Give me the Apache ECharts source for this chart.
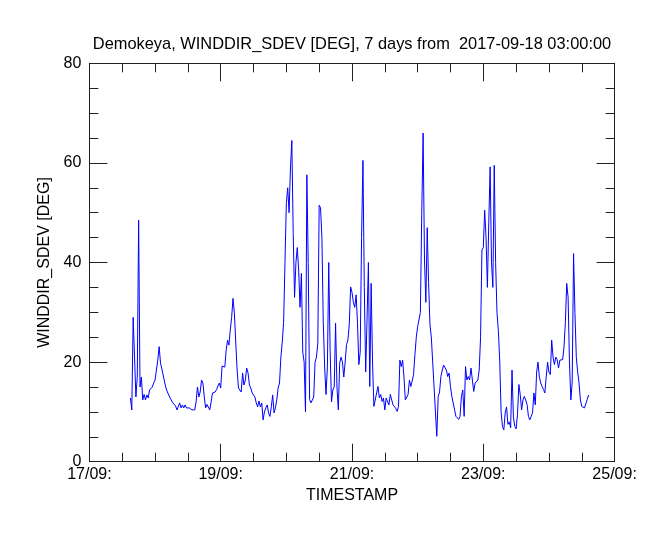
<!DOCTYPE html>
<html>
<head>
<meta charset="utf-8">
<script src="https://cdn.jsdelivr.net/npm/echarts@6/dist/echarts.min.js"></script>
<style>
html,body{margin:0;padding:0;background:#fff;}
#chart{width:666px;height:533px;}
</style>
</head>
<body>
<div id="chart"></div>
<script>
// ---- data ----
var titleText = 'Demokeya, WINDDIR_SDEV [DEG], 7 days from  2017-09-18 03:00:00';
var xAxisName = 'TIMESTAMP';
var yAxisName = 'WINDDIR_SDEV [DEG]';
var axisStart = Date.UTC(2017, 8, 17, 0, 0);   // 17/09
var axisEnd = Date.UTC(2017, 8, 25, 0, 0);     // 25/09
var seriesStart = Date.UTC(2017, 8, 17, 15, 0);
var stepMs = 30 * 60 * 1000;                   // 30-minute samples
var yTicks = [0, 20, 40, 60, 80];
var values = [
  12.8, 10.4, 29, 21, 13, 17, 48.5, 15, 17, 12.4,
  13.5, 12.4, 13.4, 12.8, 14.4, 14, 15, 15.8, 16.4, 18.4,
  20.4, 23.1, 19.8, 18.6, 18.6, 16, 14.8, 14, 14.4, 12.8,
  12.4, 11.8, 11.4, 11.2, 10.4, 10.8, 11.8, 10.8, 11.4, 10.8,
  11.4, 10.8, 11.2, 10.8, 11, 10.4, 10.8, 10.4, 12, 15,
  13, 14, 16.4, 15.8, 13, 10.8, 11.5, 11.8, 10.4, 12,
  13.8, 14, 14, 14.5, 15.2, 15.8, 14.8, 19.2, 19.2, 19,
  22.4, 24.4, 23.4, 26.4, 29, 32.8, 29.8, 24, 18.4, 14.8,
  14.4, 14, 17.8, 15.4, 16.4, 18.8, 17.8, 15.4, 14.8, 13.8,
  14, 13, 11.8, 11, 12.2, 11, 11.8, 8.4, 10, 10.8,
  11.4, 9.8, 9.1, 11, 13.4, 9.8, 10.8, 12.4, 14.8, 15.8,
  21, 24, 28, 40, 52, 55, 50, 59, 64.5, 46,
  33, 40, 43, 38.5, 31, 37.8, 22, 20, 10, 57.6,
  39.8, 12.5, 11.8, 11.5, 13, 20, 21, 23.8, 51.5, 51,
  45, 28, 19, 13.5, 19, 40, 22.4, 12, 14.4, 15,
  27.8, 15, 10.4, 19.8, 21, 20, 17, 20, 23.5, 24.4,
  27.5, 35.1, 34, 32, 31, 33.5, 28, 19.5, 22, 45,
  60.5, 35, 18, 28.5, 40, 15.1, 35.8, 20, 11.1, 11.1,
  13.8, 15.1, 12.8, 13.5, 12.1, 12.8, 10.4, 12.8, 12.5, 11.4,
  13.5, 13.1, 11.4, 11.1, 10.7, 10.1, 11.1, 20.4, 19.1, 20.4,
  17, 12.4, 12.4, 13.5, 16.4, 15.1, 16.2, 17.5, 21.5, 25,
  27.1, 27, 30, 50, 66, 40.5, 32, 47, 36, 27.5,
  25, 20, 15, 10, 5.1, 13, 14, 17.1, 18.4, 19.4,
  19.1, 18.4, 17.1, 17.8, 15.1, 13.1, 13.4, 10.4, 9.1, 9.1,
  8.5, 9.1, 13.1, 14.4, 9.1, 19.1, 16.4, 17.1, 16.4, 18.8,
  19.1, 14.1, 15.8, 16.1, 16.4, 18.4, 25, 42.5, 43, 50.5,
  45, 35, 48, 59.2, 40, 35, 59.5, 40, 30, 26.3,
  20.4, 10, 7.1, 6.4, 9.8, 11, 7.5, 8, 6.8, 18.4,
  9, 7.1, 6.6, 9.5, 15.5, 13.5, 10.4, 12.4, 13.1, 12.4,
  11.5, 9.1, 8.4, 8.8, 9.8, 13.8, 11.4, 18, 20, 17,
  15.8, 15.1, 14.5, 13.8, 17, 20, 18, 17.5, 24.4, 21,
  19.5, 21, 20.5, 18.8, 20.4, 20.8, 20.5, 23, 28, 35.8,
  33, 20, 12.4, 16, 41.8, 30, 21, 18, 15.8, 12.4,
  11.1, 10.8, 10.8, 10.8, 12.5, 13.4
];

var points = values.map(function (v, i) { return [seriesStart + i * stepMs, v]; });

function pad2(n) { return (n < 10 ? '0' : '') + n; }
function dayLabel(ms) {
  var d = new Date(ms);
  return pad2(d.getUTCDate()) + '/' + pad2(d.getUTCMonth() + 1) + ':';
}

var FONT = 'Liberation Sans';
var AX = '#222';
var dayMs = 86400000;

var chart = echarts.init(document.getElementById('chart'), null, { renderer: 'canvas' });

var commonX = {
  type: 'value',
  min: axisStart,
  max: axisEnd,
  interval: 2 * dayMs,
  splitLine: { show: false },
  axisLine: { show: true, onZero: false, lineStyle: { color: AX, width: 1 } },
  axisTick: { show: true, inside: true, length: 18, lineStyle: { color: AX, width: 1 } },
  minorTick: { show: true, splitNumber: 4, length: 9, lineStyle: { color: AX, width: 1 } },
  minorSplitLine: { show: false }
};
var commonY = {
  type: 'value',
  min: yTicks[0],
  max: yTicks[yTicks.length - 1],
  interval: 20,
  splitLine: { show: false },
  axisLine: { show: true, onZero: false, lineStyle: { color: AX, width: 1 } },
  axisTick: { show: true, inside: true, length: 18, lineStyle: { color: AX, width: 1 } },
  minorTick: { show: true, splitNumber: 4, length: 9, lineStyle: { color: AX, width: 1 } },
  minorSplitLine: { show: false }
};

var option = {
  backgroundColor: '#ffffff',
  animation: false,
  title: {
    text: titleText,
    left: 347,
    top: 31,
    textAlign: 'center',
    textStyle: { fontFamily: FONT, fontSize: 16.4, fontWeight: 'normal', color: '#000' }
  },
  grid: { left: 89.4, right: 51.4, top: 63.3, bottom: 71.3, containLabel: false },
  xAxis: [
    Object.assign({}, commonX, {
      position: 'bottom',
      name: xAxisName,
      nameLocation: 'middle',
      nameGap: 24,
      nameTextStyle: { fontFamily: FONT, fontSize: 16, color: '#000' },
      axisLabel: {
        show: true, margin: 5, fontFamily: FONT, fontSize: 16, color: '#000',
        formatter: function (v) { return dayLabel(v); }
      }
    }),
    Object.assign({}, commonX, { position: 'top', axisLabel: { show: false } })
  ],
  yAxis: [
    Object.assign({}, commonY, {
      position: 'left',
      name: yAxisName,
      nameLocation: 'middle',
      nameGap: 36,
      nameRotate: 90,
      nameTextStyle: { fontFamily: FONT, fontSize: 16, color: '#000' },
      axisLabel: { show: true, margin: 8, fontFamily: FONT, fontSize: 16, color: '#000' }
    }),
    Object.assign({}, commonY, { position: 'right', axisLabel: { show: false } })
  ],
  series: [{
    type: 'line',
    xAxisIndex: 0,
    yAxisIndex: 0,
    data: points,
    showSymbol: false,
    symbol: 'none',
    sampling: null,
    lineStyle: { color: '#0000ff', width: 1 },
    itemStyle: { color: '#0000ff' }
  }]
};

chart.setOption(option);
</script>
</body>
</html>
